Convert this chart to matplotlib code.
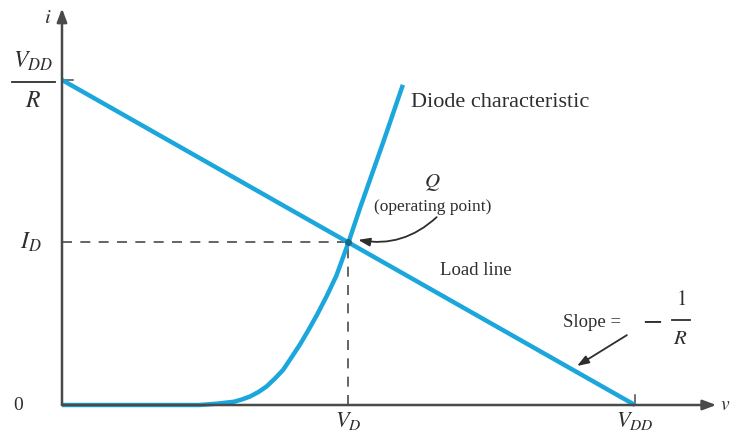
import numpy as np
import matplotlib.pyplot as plt

# Circuit values (normalised units)
V_DD = 10.0
R = 1.0
V_Q = 5.0          # operating-point voltage V_D
I_Q = 5.0          # operating-point current I_D

# Diode i-v characteristic, sampled points
diode_v = [0.0, 1.5, 2.4, 2.7, 3.0, 3.14, 3.28, 3.43, 3.57, 3.72, 3.86,
           4.0, 4.15, 4.3, 4.45, 4.62, 4.79, 5.0, 5.2, 5.6, 5.95]
diode_i = [0.0, 0.0, 0.0, 0.04, 0.1, 0.17, 0.26, 0.4, 0.57, 0.82, 1.08,
           1.45, 1.85, 2.3, 2.77, 3.35, 3.98, 5.0, 6.05, 8.05, 9.85]

LINE = '#1ba6dc'
INK = '#2e2e2e'
AXIS = '#4a4a4a'

plt.rcParams['font.family'] = ['Liberation Serif', 'DejaVu Serif']
plt.rcParams['mathtext.fontset'] = 'stix'

fig = plt.figure(figsize=(7.3, 4.34), dpi=100)
ax = fig.add_axes([0, 0, 1, 1])
ax.set_xlim(-1.082, 11.66)
ax.set_ylim(-0.892, 12.46)
ax.axis('off')

# axes with arrow heads
arrow_head = '-|>,head_length=0.8,head_width=0.3'
ax.annotate('', xy=(0, 12.2), xytext=(0, 0),
            arrowprops=dict(arrowstyle=arrow_head, color=AXIS, lw=1.8,
                            shrinkA=0, shrinkB=0))
ax.annotate('', xy=(11.42, 0), xytext=(0, 0),
            arrowprops=dict(arrowstyle=arrow_head, color=AXIS, lw=1.8,
                            shrinkA=0, shrinkB=0))

# dashed guides to the operating point
ax.plot([0, V_Q], [I_Q, I_Q], ls=(0, (6, 5)), color=AXIS, lw=1.2)
ax.plot([V_Q, V_Q], [0, I_Q], ls=(0, (6, 5)), color=AXIS, lw=1.2)

# small ticks
ax.plot([V_DD, V_DD], [0, 0.3], color=AXIS, lw=1.1)
ax.plot([0, 0.2], [V_DD / R, V_DD / R], color=AXIS, lw=1.1)

# load line and diode curve
load_v = np.array([0, V_DD])
ax.plot(load_v, (V_DD - load_v) / R, color=LINE, lw=3.2, solid_capstyle='butt')
ax.plot(diode_v, diode_i, color=LINE, lw=3.2, solid_capstyle='butt',
        solid_joinstyle='round')
ax.plot(V_Q, I_Q, 'o', color='#156a8c', ms=4)


def fraction(x, y, top, bottom, half_width, size, gap=0.62):
    """Stacked fraction: numerator, rule, denominator centred on (x, y)."""
    ax.text(x, y + gap, top, fontsize=size, ha='center', va='center', color=INK)
    ax.plot([x - half_width, x + half_width], [y, y], color=INK, lw=1.3)
    ax.text(x, y - gap, bottom, fontsize=size, ha='center', va='center', color=INK)


# axis labels
ax.text(-0.24, 11.9, r'$i$', fontsize=15, ha='center', va='center', color=INK)
ax.text(11.48, 0.0, r'$v$', fontsize=14, ha='left', va='center', color=INK)
fraction(-0.5, 9.95, r'$V_{DD}$', r'$R$', 0.38, 17)
ax.text(-0.77, 0.0, '0', fontsize=14, ha='center', va='center', color=INK)
ax.text(-0.55, I_Q, r'$I_D$', fontsize=17, ha='center', va='center', color=INK)
ax.text(V_Q, -0.48, r'$V_D$', fontsize=16, ha='center', va='center', color=INK)
ax.text(V_DD, -0.48, r'$V_{DD}$', fontsize=16, ha='center', va='center', color=INK)

# annotations
ax.text(6.1, 9.3, 'Diode characteristic', fontsize=16, ha='left', va='center', color=INK)
ax.text(6.46, 6.85, r'$Q$', fontsize=15, ha='center', va='center', color=INK)
ax.text(6.47, 6.08, '(operating point)', fontsize=12.5, ha='center', va='center', color=INK)
ax.annotate('', xy=(5.17, 5.08), xytext=(6.54, 5.78),
            arrowprops=dict(arrowstyle='-|>,head_length=0.7,head_width=0.25',
                            connectionstyle='arc3,rad=-0.25', color=INK, lw=1.3,
                            shrinkA=0, shrinkB=0))
ax.text(6.6, 4.15, 'Load line', fontsize=13.5, ha='left', va='center', color=INK)
ax.text(8.74, 2.55, 'Slope =', fontsize=13.5, ha='left', va='center', color=INK)
ax.text(10.3, 2.6, r'$-$', fontsize=21, ha='center', va='center', color=INK)
fraction(10.8, 2.6, r'$1$', r'$R$', 0.16, 15, gap=0.6)
ax.annotate('', xy=(8.99, 1.2), xytext=(9.86, 2.15),
            arrowprops=dict(arrowstyle='-|>,head_length=0.7,head_width=0.25',
                            color=INK, lw=1.3, shrinkA=0, shrinkB=0))

fig.savefig('out.png', dpi=100)
